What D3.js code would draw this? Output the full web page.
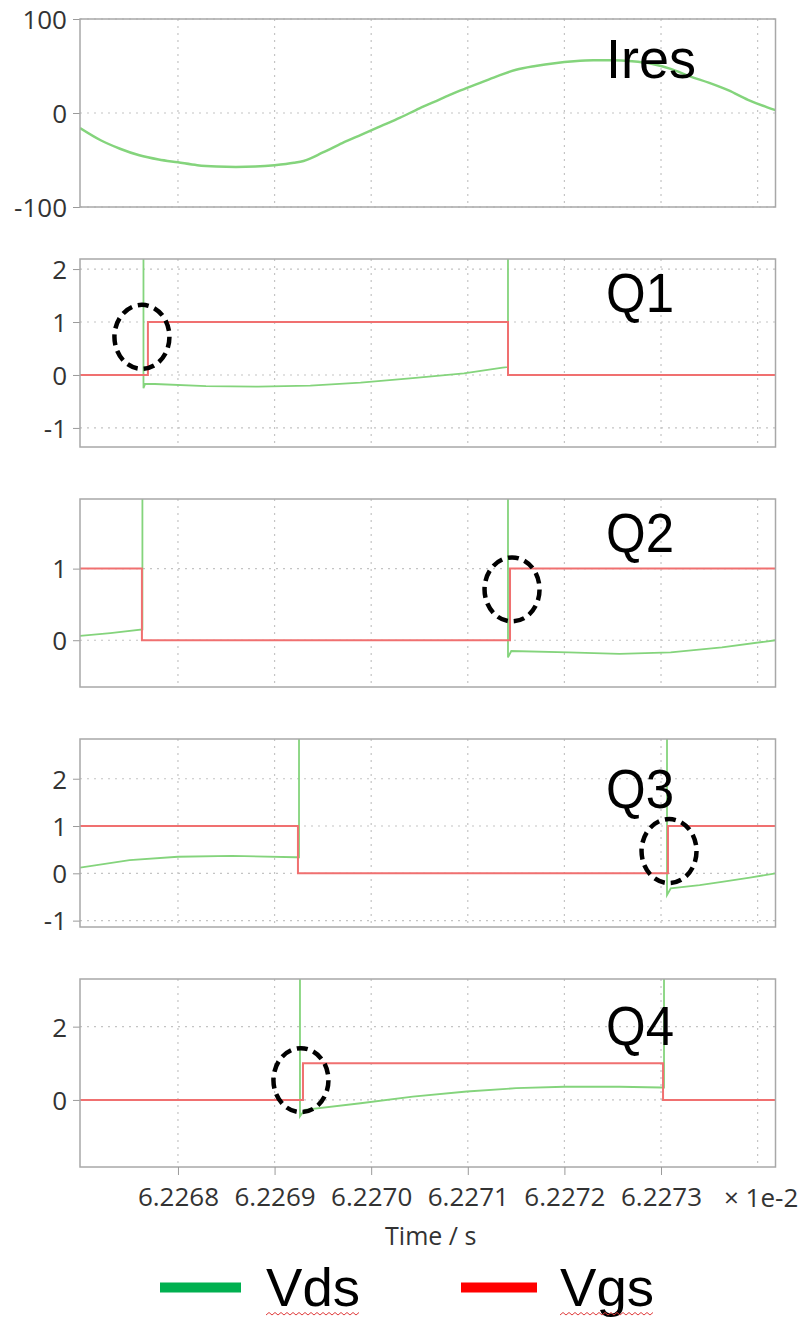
<!DOCTYPE html>
<html><head><meta charset="utf-8">
<script src="https://cdn.jsdelivr.net/npm/d3@7"></script>
<style>body{margin:0;background:#fff} svg{display:block}</style>
</head><body>
<svg id="c" width="809" height="1320"></svg>
<script>
// ---------- data (time in units of 1e-2 s) ----------
const xDomain = [6.2266986, 6.2274185];
const xTickValues = [6.2268, 6.2269, 6.2270, 6.2271, 6.2272, 6.2273];
const xGridValues = [6.2268, 6.2269, 6.2270, 6.2271, 6.2272, 6.2273, 6.2274];

const panelNames = ["Ires", "Q1", "Q2", "Q3", "Q4"];
const yDomains = [[-100, 100], [-1.36, 2.19], [-0.653, 1.972], [-1.135, 2.84], [-1.83, 3.30]];
const yTickValues = [[-100, 0, 100], [-1, 0, 1, 2], [0, 1], [-1, 0, 1, 2], [0, 2]];

const iresData = [
  [6.2266986,-16],[6.22672,-29],[6.22674,-38],[6.22676,-45],[6.22678,-49.5],[6.22680,-52.5],
  [6.22682,-55.5],[6.22684,-57],[6.22686,-57.5],[6.22688,-57],[6.22690,-55.5],[6.22692,-53],
  [6.22693,-51],[6.22695,-42],[6.22697,-32],[6.22699,-23],[6.22701,-14],[6.22703,-5],
  [6.22705,5],[6.22707,14],[6.22709,23],[6.22711,31],[6.22713,39],[6.22715,46],[6.22717,50],
  [6.22719,53],[6.22721,55],[6.22723,56],[6.22725,56],[6.22727,55],[6.22729,52.5],[6.22731,47],
  [6.22733,39],[6.22735,32],[6.22737,24],[6.22739,14],[6.22741,6],[6.2274185,3]
];

// Vds (green) – value 5 means "off the top of the plot"
const q1Vds = [[6.2266986,5],[6.2267643,5],[6.2267643,-0.25],[6.226766,-0.17],[6.226776,-0.17],
  [6.226829,-0.21],[6.226883,-0.22],[6.226937,-0.2],[6.226989,-0.145],[6.227043,-0.06],
  [6.227096,0.03],[6.227136,0.14],[6.2271416,0.15],[6.2271416,5],[6.2274185,5]];
const q1Vgs = [[6.2266986,0],[6.2267689,0],[6.2267689,1],[6.2271416,1],[6.2271416,0],[6.2274185,0]];

const q2Vds = [[6.2266986,0.06],[6.22673,0.1],[6.2267632,0.15],[6.2267632,5],[6.2271416,5],
  [6.2271416,-0.24],[6.227145,-0.15],[6.227204,-0.17],[6.227257,-0.19],[6.22731,-0.17],
  [6.227363,-0.1],[6.2274185,0]];
const q2Vgs = [[6.2266986,1],[6.2267627,1],[6.2267627,0],[6.2271437,0],[6.2271437,1],[6.2274185,1]];

const q3Vds = [[6.2266986,0.12],[6.22675,0.28],[6.2268,0.35],[6.226856,0.37],[6.226922,0.34],
  [6.2269253,0.34],[6.2269253,5],[6.2273062,5],[6.2273062,-0.46],[6.22731,-0.32],
  [6.22734,-0.25],[6.227363,-0.18],[6.227392,-0.09],[6.2274185,0]];
const q3Vgs = [[6.2266986,1],[6.2269242,1],[6.2269242,0],[6.2273072,0],[6.2273072,1],[6.2274185,1]];

const q4Vds = [[6.2266986,5],[6.2269263,5],[6.2269263,-0.45],[6.226931,-0.27],[6.226989,-0.09],
  [6.227043,0.09],[6.227099,0.23],[6.22715,0.32],[6.2272,0.36],[6.227257,0.36],[6.2273,0.34],
  [6.2273031,0.34],[6.2273031,5],[6.2274185,5]];
const q4Vgs = [[6.2266986,0],[6.2269294,0],[6.2269294,1],[6.2273021,1],[6.2273021,0],[6.2274185,0]];

// dashed ellipse annotations: [panel index, time, value]
const circleMarks = [[1, 6.2267627, 0.72], [2, 6.2271458, 0.71], [3, 6.2273083, 0.47], [4, 6.2269273, 0.54]];

const legendLabels = ["Vds", "Vgs"];

// ---------- layout ----------
const L = 80, R = 775.5, H = 188;
const panelTops = [19, 259, 499, 739, 979];
const labelBase = [59, 53, 53, 69, 66];
const greenLine = "#84d47c", redLine = "#f07070";
const tickFont = "'Open Sans', 'Noto Sans', sans-serif";

const svg = d3.select("#c");
const x = d3.scaleLinear().domain(xDomain).range([L, R]);
const seriesByPanel = [
  {vds: iresData, vgs: null},
  {vds: q1Vds, vgs: q1Vgs},
  {vds: q2Vds, vgs: q2Vgs},
  {vds: q3Vds, vgs: q3Vgs},
  {vds: q4Vds, vgs: q4Vgs}
];
const yScales = [];

panelNames.forEach((name, i) => {
  const top = panelTops[i];
  const y = d3.scaleLinear().domain(yDomains[i]).range([top + H, top]);
  yScales.push(y);
  const g = svg.append("g");
  svg.append("clipPath").attr("id", "clip" + i)
    .append("rect").attr("x", L).attr("y", top).attr("width", R - L).attr("height", H);

  // grid
  g.append("g").selectAll("line").data(xGridValues).join("line")
    .attr("x1", d => x(d)).attr("x2", d => x(d)).attr("y1", top).attr("y2", top + H)
    .attr("stroke", "#c4c4c4").attr("stroke-width", 1.2).attr("stroke-dasharray", "2,5");
  g.append("g").selectAll("line").data(yTickValues[i]).join("line")
    .attr("x1", L).attr("x2", R).attr("y1", d => y(d)).attr("y2", d => y(d))
    .attr("stroke", "#c4c4c4").attr("stroke-width", 1.2).attr("stroke-dasharray", "2,5");

  // y axis
  const ax = g.append("g").attr("transform", `translate(${L},0)`)
    .call(d3.axisLeft(y).tickValues(yTickValues[i]).tickSize(7).tickPadding(6).tickFormat(d => String(d)));
  ax.select(".domain").remove();
  ax.selectAll("line").attr("stroke", "#9a9a9a");
  ax.selectAll("text").attr("font-family", tickFont).attr("font-size", 26).attr("fill", "#333").attr("dy", "0.36em");

  const line = d3.line().x(d => x(d[0])).y(d => y(d[1]));
  const s = seriesByPanel[i];
  const plot = g.append("g").attr("clip-path", `url(#clip${i})`);
  if (i === 0) {
    plot.append("path").datum(s.vds)
      .attr("d", d3.line().x(d => x(d[0])).y(d => y(d[1])).curve(d3.curveMonotoneX))
      .attr("fill", "none").attr("stroke", greenLine).attr("stroke-width", 2.5);
  } else {
    plot.append("path").datum(s.vds).attr("d", line)
      .attr("fill", "none").attr("stroke", greenLine).attr("stroke-width", 1.8);
    plot.append("path").datum(s.vgs).attr("d", line)
      .attr("fill", "none").attr("stroke", redLine).attr("stroke-width", 2);
  }

  // border
  g.append("rect").attr("x", L).attr("y", top).attr("width", R - L).attr("height", H)
    .attr("fill", "none").attr("stroke", "#a8a8a8").attr("stroke-width", 1.5);

  // panel label
  g.append("text").attr("x", 606).attr("y", top + labelBase[i])
    .attr("font-family", "'Liberation Sans', Arial, sans-serif").attr("font-size", 56)
    .attr("textLength", i === 0 ? 90 : 68).attr("lengthAdjust", "spacingAndGlyphs")
    .attr("fill", "#000").text(name);
});

// dashed ellipses
svg.append("g").selectAll("ellipse").data(circleMarks).join("ellipse")
  .attr("cx", d => x(d[1])).attr("cy", d => yScales[d[0]](d[2]))
  .attr("rx", 27.5).attr("ry", 32)
  .attr("fill", "none").attr("stroke", "#000").attr("stroke-width", 4.5).attr("stroke-dasharray", "11,6");

// x axis
const bottom = panelTops[4] + H;
const xa = svg.append("g").attr("transform", `translate(0,${bottom})`)
  .call(d3.axisBottom(x).tickValues(xTickValues).tickSize(8).tickPadding(13).tickFormat(d3.format(".4f")));
xa.select(".domain").remove();
xa.selectAll("line").attr("stroke", "#9a9a9a");
xa.selectAll("text").attr("font-family", tickFont).attr("font-size", 26).attr("fill", "#333");

svg.append("text").attr("x", 724).attr("y", 1207)
  .attr("font-family", tickFont).attr("font-size", 26).attr("fill", "#333").text("× 1e-2");
svg.append("text").attr("x", (L + R) / 2 + 3).attr("y", 1245).attr("text-anchor", "middle")
  .attr("font-family", tickFont).attr("font-size", 25).attr("fill", "#333").text("Time / s");

// legend
const legendColors = ["#00b050", "#ff0000"];
const legendLineX = [[160, 241], [461, 537]];
const legendTextX = [266, 560];
legendLabels.forEach((lab, i) => {
  svg.append("line").attr("x1", legendLineX[i][0]).attr("x2", legendLineX[i][1])
    .attr("y1", 1287.5).attr("y2", 1287.5).attr("stroke", legendColors[i]).attr("stroke-width", 10);
  svg.append("text").attr("x", legendTextX[i]).attr("y", 1306)
    .attr("font-family", "'Liberation Sans', Arial, sans-serif").attr("font-size", 53)
    .attr("textLength", 94).attr("lengthAdjust", "spacingAndGlyphs").attr("fill", "#000").text(lab);
  // spell-check squiggle under the word
  let p = `M${legendTextX[i]},1315`;
  for (let k = 1; legendTextX[i] + k * 3 <= legendTextX[i] + 95; k++) {
    p += ` L${legendTextX[i] + k * 3},${k % 2 ? 1312.5 : 1315}`;
  }
  svg.append("path").attr("d", p).attr("fill", "none").attr("stroke", "#e03c3c").attr("stroke-width", 1);
});
</script></body></html>
